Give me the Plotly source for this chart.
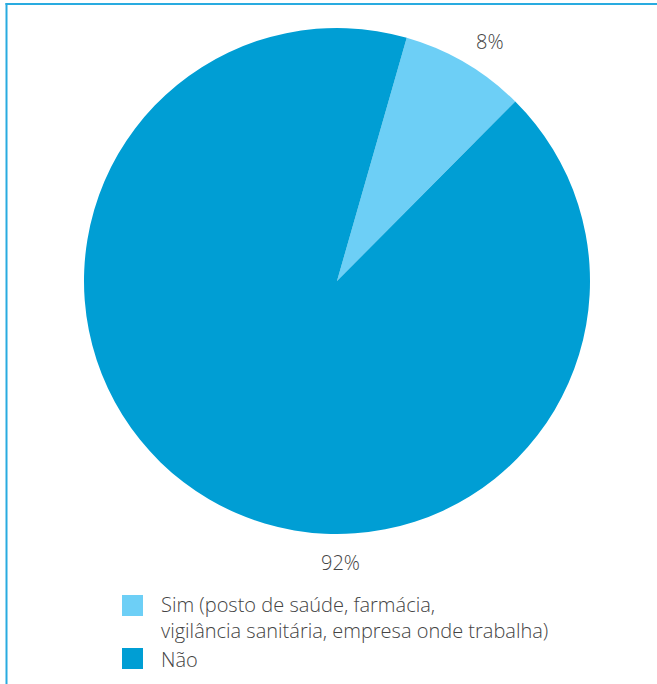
import plotly.graph_objects as go

# Data
categories = ["Sim (posto de saúde, farmácia,<br>vigilância sanitária, empresa onde trabalha)", "Não"]
values = [8, 92]
colors = ["#6dcff6", "#009ed4"]

W, H = 657, 684
FONT = "Open Sans"
TEXT_COLOR = "#444444"
TEXT_SIZE = 20


def px(x):
    return x / W


def py(y):
    return 1 - y / H


# Pie geometry (pixels)
cx, cy, r = 337, 281, 253

fig = go.Figure(
    go.Pie(
        labels=categories,
        values=values,
        marker=dict(colors=colors, line=dict(width=0)),
        sort=False,
        direction="clockwise",
        rotation=16,
        textinfo="none",
        hoverinfo="label+percent",
        showlegend=False,
        domain=dict(x=[px(cx - r), px(cx + r)], y=[py(cy + r), py(cy - r)]),
    )
)

total = sum(values)
pct = [f"{round(v / total * 100)}%" for v in values]

annotations = []
# Percentage labels
label_pos = [(490, 42), (340, 562)]
for text, (x, y) in zip(pct, label_pos):
    annotations.append(dict(
        x=px(x), y=py(y), xref="paper", yref="paper", text=text, showarrow=False,
        xanchor="center", yanchor="middle",
        font=dict(family=FONT, size=TEXT_SIZE, color=TEXT_COLOR, weight=300),
    ))

# Legend (swatches + text)
shapes = []
legend_rows = [(595, 617.5), (648, 659)]
for color, cat, (sy, ty) in zip(colors, categories, legend_rows):
    shapes.append(dict(
        type="rect", xref="paper", yref="paper",
        x0=px(122), x1=px(143), y0=py(sy), y1=py(sy + 21),
        fillcolor=color, line=dict(width=0),
    ))
    annotations.append(dict(
        x=px(159), y=py(ty), xref="paper", yref="paper", text=cat, showarrow=False,
        xanchor="left", yanchor="middle", align="left",
        font=dict(family=FONT, size=TEXT_SIZE, color=TEXT_COLOR, weight=300),
    ))

# Frame lines (top and left)
frame_color = "#29abe0"
shapes.append(dict(type="line", xref="paper", yref="paper",
                   x0=px(5.5), x1=1, y0=py(4), y1=py(4),
                   line=dict(color=frame_color, width=2)))
shapes.append(dict(type="line", xref="paper", yref="paper",
                   x0=px(6.5), x1=px(6.5), y0=py(3), y1=0,
                   line=dict(color=frame_color, width=2)))

fig.update_layout(
    width=W, height=H,
    margin=dict(l=0, r=0, t=0, b=0),
    paper_bgcolor="white",
    plot_bgcolor="white",
    annotations=annotations,
    shapes=shapes,
    font=dict(family=FONT, color=TEXT_COLOR),
)

fig.write_html("out.html")
